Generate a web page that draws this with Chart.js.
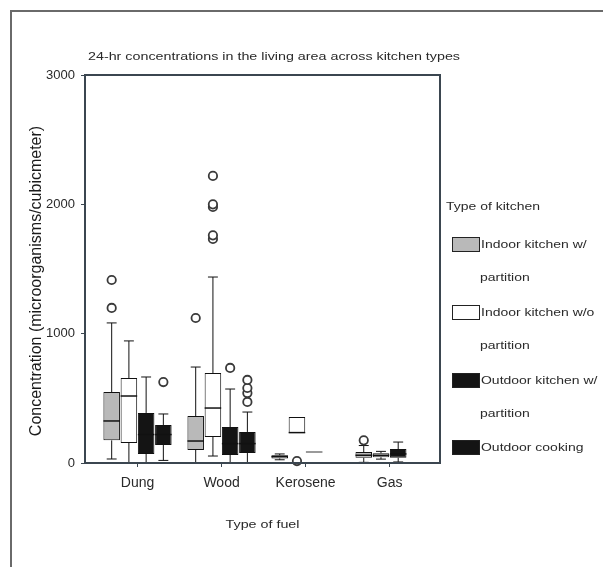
<!DOCTYPE html>
<html>
<head>
<meta charset="utf-8">
<title>24-hr concentrations in the living area across kitchen types</title>
<script src="https://cdn.jsdelivr.net/npm/chart.js@4.4.1/dist/chart.umd.min.js"></script>
<style>
  html, body { margin: 0; padding: 0; background: #ffffff; }
  canvas { display: block; }
</style>
</head>
<body>
<canvas id="chart" width="603" height="567"></canvas>
<script>
// Fuel categories on the x axis
const fuels = ['Dung', 'Wood', 'Kerosene', 'Gas'];

// Kitchen types (legend text, split over two lines where needed)
const kitchenTypes = [
  ['Indoor kitchen w/', 'partition'],
  ['Indoor kitchen w/o', 'partition'],
  ['Outdoor kitchen w/', 'partition'],
  ['Outdoor cooking']
];

// Box statistics per fuel: [lower whisker, Q1, median, Q3, upper whisker]; null = no cases
const indoorWithPartition = [
  [31, 175, 325, 549, 1083],
  [0, 101, 170, 363, 742],
  [25, 35, 50, 60, 70],
  [5, 40, 60, 85, 135]
];
const indoorWithoutPartition = [
  [0, 155, 518, 657, 944],
  [54, 201, 425, 696, 1438],
  [232, 232, 235, 356, 356],
  [30, 45, 60, 75, 90]
];
const outdoorWithPartition = [
  [0, 70, 220, 387, 665],
  [0, 62, 150, 278, 572],
  [85, 85, 85, 85, 85],
  [8, 40, 70, 108, 162]
];
const outdoorCooking = [
  [20, 139, 220, 294, 379],
  [0, 77, 150, 240, 394],
  null,
  null
];

// Outlying cases per fuel
const indoorWithPartitionOutliers = [[1199, 1415], [1121], [], [175]];
const indoorWithoutPartitionOutliers = [[], [1732, 1760, 1980, 2000, 2220], [15], []];
const outdoorWithPartitionOutliers = [[], [735], [], []];
const outdoorCookingOutliers = [[626], [472, 541, 580, 642], [], []];

// Value axis
const yMin = 0;
const yMax = 3000;
const yStep = 1000;

const boxFills = ['#b9b9b9', '#ffffff', '#141414', '#141414'];
const seriesStats = [indoorWithPartition, indoorWithoutPartition, outdoorWithPartition, outdoorCooking];
const seriesOutliers = [indoorWithPartitionOutliers, indoorWithoutPartitionOutliers,
                        outdoorWithPartitionOutliers, outdoorCookingOutliers];

const FONT = '"Liberation Sans", Arial, sans-serif';
const TEXT = '#2a2a2a';

// Text drawn slightly widened, like the original chart lettering
function wideText(ctx, text, x, y, align, size, sx) {
  ctx.save();
  ctx.font = size + 'px ' + FONT;
  const w = ctx.measureText(text).width * sx;
  const left = align === 'center' ? x - w / 2 : (align === 'right' ? x - w : x);
  ctx.translate(left, y);
  ctx.scale(sx, 1);
  ctx.textAlign = 'left';
  ctx.textBaseline = 'middle';
  ctx.fillStyle = TEXT;
  ctx.fillText(text, 0, 0);
  ctx.restore();
}

const datasets = seriesStats.map((stats, i) => {
  const data = [];
  stats.forEach((st, j) => {
    if (st) data.push({ x: j, y: [st[1], st[3]], stats: st, outliers: seriesOutliers[i][j] });
  });
  return {
    label: kitchenTypes[i].join(' '),
    data: data,
    backgroundColor: boxFills[i],
    borderColor: '#111111',
    borderWidth: 1,
    borderSkipped: false,
    categoryPercentage: 0.82,
    barPercentage: 0.96
  };
});

// Whiskers, medians and outliers, placed on each box drawn by the bar controller
const boxPlotMarks = {
  id: 'boxPlotMarks',
  afterDatasetsDraw(chart) {
    const ctx = chart.ctx;
    const y = chart.scales.y;
    chart.data.datasets.forEach((ds, di) => {
      const meta = chart.getDatasetMeta(di);
      meta.data.forEach((bar, k) => {
        const raw = ds.data[k];
        const [lo, q1, med, q3, hi] = raw.stats;
        const x = bar.x;
        const half = bar.width / 2;
        const cap = bar.width * 0.3;
        ctx.save();
        ctx.lineWidth = 1;
        ctx.strokeStyle = '#111111';
        ctx.beginPath();
        if (hi > q3) {
          ctx.moveTo(x, y.getPixelForValue(q3));
          ctx.lineTo(x, y.getPixelForValue(hi));
          ctx.moveTo(x - cap, y.getPixelForValue(hi));
          ctx.lineTo(x + cap, y.getPixelForValue(hi));
        }
        if (lo < q1) {
          ctx.moveTo(x, y.getPixelForValue(q1));
          ctx.lineTo(x, y.getPixelForValue(lo));
          ctx.moveTo(x - cap, y.getPixelForValue(lo));
          ctx.lineTo(x + cap, y.getPixelForValue(lo));
        }
        ctx.stroke();
        // median; a box with no spread shows as a faint rule
        ctx.beginPath();
        if (q1 === q3) {
          ctx.strokeStyle = '#9a9a9a';
          ctx.lineWidth = 2;
        } else {
          ctx.strokeStyle = '#111111';
          ctx.lineWidth = 1.5;
        }
        const my = y.getPixelForValue(med);
        ctx.moveTo(x - half, my);
        ctx.lineTo(x + half, my);
        ctx.stroke();
        // outliers
        ctx.lineWidth = 1.8;
        ctx.strokeStyle = '#3a3a3a';
        ctx.fillStyle = '#ffffff';
        raw.outliers.forEach(v => {
          ctx.beginPath();
          ctx.arc(x, y.getPixelForValue(v), 4.2, 0, Math.PI * 2);
          ctx.fill();
          ctx.stroke();
        });
        ctx.restore();
      });
    });
  }
};

// Frame, titles, legend and page border
const decorations = {
  id: 'decorations',
  afterDraw(chart) {
    const ctx = chart.ctx;
    const a = chart.chartArea;
    ctx.save();
    ctx.strokeStyle = '#3b4650';
    ctx.lineWidth = 2;
    ctx.strokeRect(a.left, a.top, a.right - a.left, a.bottom - a.top);

    // page border
    ctx.strokeStyle = '#6a6a6a';
    ctx.lineWidth = 2;
    ctx.beginPath();
    ctx.moveTo(11, 620);
    ctx.lineTo(11, 11);
    ctx.lineTo(620, 11);
    ctx.stroke();
    ctx.restore();

    wideText(ctx, '24-hr concentrations in the living area across kitchen types', 88, 57, 'left', 11, 1.3);
    wideText(ctx, 'Type of fuel', (a.left + a.right) / 2, 525, 'center', 11, 1.3);

    // value axis title
    ctx.save();
    ctx.translate(37, 281);
    ctx.rotate(-Math.PI / 2);
    ctx.font = '16px ' + FONT;
    ctx.fillStyle = '#1a1a1a';
    ctx.textAlign = 'center';
    ctx.textBaseline = 'middle';
    ctx.fillText('Concentration (microorganisms/cubicmeter)', 0, 0);
    ctx.restore();

    // legend
    wideText(ctx, 'Type of kitchen', 446, 207, 'left', 11, 1.27);
    const rowY = [245, 313, 381, 448];
    chart.data.datasets.forEach((ds, i) => {
      const ty = rowY[i];
      ctx.save();
      ctx.fillStyle = ds.backgroundColor;
      ctx.strokeStyle = '#222222';
      ctx.lineWidth = 1;
      ctx.fillRect(452, ty - 8, 28, 15);
      ctx.strokeRect(452.5, ty - 7.5, 27, 14);
      ctx.restore();
      const lines = kitchenTypes[i];
      wideText(ctx, lines[0], 481, ty, 'left', 11, 1.27);
      if (lines[1]) wideText(ctx, lines[1], 480, ty + 33, 'left', 11, 1.27);
    });
  }
};

new Chart(document.getElementById('chart'), {
  type: 'bar',
  data: { datasets: datasets },
  plugins: [boxPlotMarks, decorations],
  options: {
    responsive: false,
    animation: false,
    devicePixelRatio: 1,
    layout: { padding: { left: 0, top: 75, right: 163, bottom: 0 } },
    plugins: {
      legend: { display: false },
      title: { display: false },
      tooltip: { enabled: false }
    },
    scales: {
      x: {
        type: 'linear',
        min: -0.625,
        max: 3.6,
        offset: false,
        ticks: {
          stepSize: 1,
          includeBounds: false,
          autoSkip: false,
          maxRotation: 0,
          padding: 8,
          color: TEXT,
          font: { family: FONT, size: 14 },
          callback: v => (fuels[v] !== undefined ? fuels[v] : '')
        },
        grid: { offset: false, drawOnChartArea: false, drawTicks: true, tickLength: 4, color: '#3b4650' },
        border: { display: false },
        afterFit: s => { s.height = 104; }
      },
      y: {
        min: yMin,
        max: yMax,
        ticks: {
          stepSize: yStep,
          padding: 6,
          color: TEXT,
          font: { family: FONT, size: 13 },
          callback: v => String(v)
        },
        grid: { drawOnChartArea: false, drawTicks: true, tickLength: 4, color: '#3b4650' },
        border: { display: false },
        afterFit: s => { s.width = 85; }
      }
    }
  }
});
</script>
</body>
</html>
